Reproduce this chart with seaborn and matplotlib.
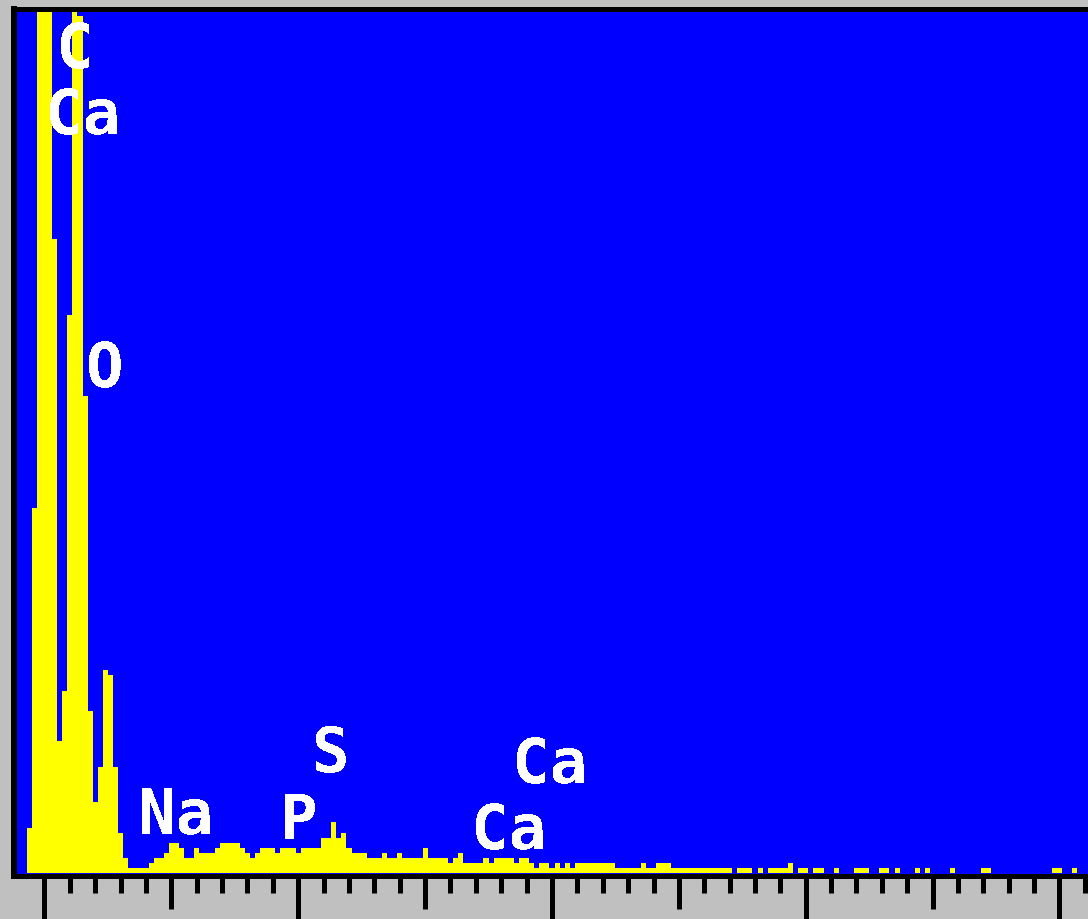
import numpy as np
import pandas as pd
import matplotlib
matplotlib.use('Agg')
import matplotlib.pyplot as plt
import seaborn as sns
from matplotlib.ticker import FixedLocator, NullLocator

# EDS spectrum, 0.04 keV per channel, channel -5 .. 205
channel_start = -5
counts = [
    0, 0, 45, 365, 1100,
    1250, 1150, 634, 132, 182, 558, 900, 857, 477, 162,
    71, 106, 203, 198, 106, 40, 15, 5, 5, 5,
    5, 10, 15, 15, 20, 30, 30, 25, 15, 15,
    25, 20, 20, 20, 25, 30, 30, 30, 30, 25,
    20, 15, 20, 25, 25, 25, 20, 25, 25, 25,
    20, 25, 25, 25, 25, 35, 35, 51, 35, 40,
    25, 20, 20, 20, 15, 15, 15, 20, 15, 15,
    20, 15, 15, 15, 15, 25, 15, 15, 15, 15,
    10, 15, 20, 10, 10, 10, 10, 15, 10, 15,
    15, 15, 15, 10, 15, 15, 10, 5, 10, 10,
    5, 10, 5, 10, 5, 10, 10, 10, 10, 10,
    10, 10, 10, 5, 5, 5, 5, 5, 10, 5,
    5, 10, 10, 10, 5, 5, 5, 5, 5, 5,
    5, 5, 5, 5, 5, 5, 0, 5, 5, 5,
    0, 5, 0, 5, 5, 5, 5, 10, 0, 5,
    5, 0, 5, 5, 0, 0, 5, 0, 0, 0,
    5, 5, 5, 0, 0, 5, 5, 0, 5, 0,
    0, 0, 5, 0, 5, 0, 0, 0, 0, 5,
    0, 0, 0, 0, 0, 5, 5, 0, 0, 0,
    0, 0, 0, 0, 0, 0, 0, 0, 0, 5,
    5, 0, 0, 5, 0, 0,
]
kev_per_channel = 0.04

# peak labels
label_text = ['C', 'Ca', 'O', 'Na', 'P', 'S', 'Ca', 'Ca']
label_kev = [0.240, 0.300, 0.481, 1.040, 2.002, 2.258, 3.984, 3.661]
label_base = [806, 740, 487, 40, 35, 102, 91, 25]

channels = np.arange(channel_start, channel_start + len(counts))
df = pd.DataFrame({'kev': np.round(channels * kev_per_channel, 3), 'counts': counts})

sns.set_style('white')
plt.rcParams['font.family'] = ['DejaVu Sans Mono', 'DejaVu Sans']
plt.rcParams['text.antialiased'] = False

W, H = 1088, 920
fig = plt.figure(figsize=(W / 100, H / 100), dpi=100, facecolor='#c0c0c0')
# axes frame in pixels: left 14, top 9.5, bottom 876.5, right beyond the image
left, top, bottom, right = 14, 9.5, 876.5, 1100
ax = fig.add_axes([left / W, (H - bottom) / H, (right - left) / W, (bottom - top) / H])
ax.set_facecolor('#0000ff')

sns.barplot(data=df, x='kev', y='counts', native_scale=True, width=1.0,
            color='#ffff00', saturation=1, linewidth=0, edgecolor='#ffff00', ax=ax)
for p in ax.patches:
    p.set_antialiased(False)

px_per_kev = 126.875
ax.set_xlim((left - 44.5) / px_per_kev, (right - 44.5) / px_per_kev)
ax.set_ylim(-(bottom - 874), 874 - top)

for txt, xk, yb in zip(label_text, label_kev, label_base):
    ax.text(xk, yb, txt, color='white', fontsize=45, fontweight='bold',
            ha='center', va='baseline', zorder=5)

# frame
for s in ['right']:
    ax.spines[s].set_visible(False)
ax.spines['left'].set_linewidth(4.32)
ax.spines['top'].set_linewidth(3.6)
ax.spines['bottom'].set_linewidth(3.6)
for s in ['left', 'top', 'bottom']:
    ax.spines[s].set_color('black')
    ax.spines[s].set_zorder(6)

# ticks: long every 2 keV, short every 0.2 keV
ax.xaxis.set_major_locator(FixedLocator(np.arange(0, 8.5, 2)))
ax.xaxis.set_minor_locator(FixedLocator(np.arange(0.2, 8.3, 0.2)))
ax.yaxis.set_major_locator(NullLocator())
ax.tick_params(axis='x', which='major', direction='out', length=33, width=3.6,
               color='black', labelbottom=False, bottom=True)
ax.tick_params(axis='x', which='minor', direction='out', length=12.4, width=3.6,
               color='black', bottom=True)
ax.set_xlabel('')
ax.set_ylabel('')

# medium ticks at odd keV
sec = ax.secondary_xaxis('bottom')
sec.set_xticks([1, 3, 5, 7])
sec.tick_params(axis='x', direction='out', length=24.1, width=3.6, color='black',
                labelbottom=False)
sec.spines['bottom'].set_visible(False)

fig.savefig('out.png', dpi=100, facecolor=fig.get_facecolor())
